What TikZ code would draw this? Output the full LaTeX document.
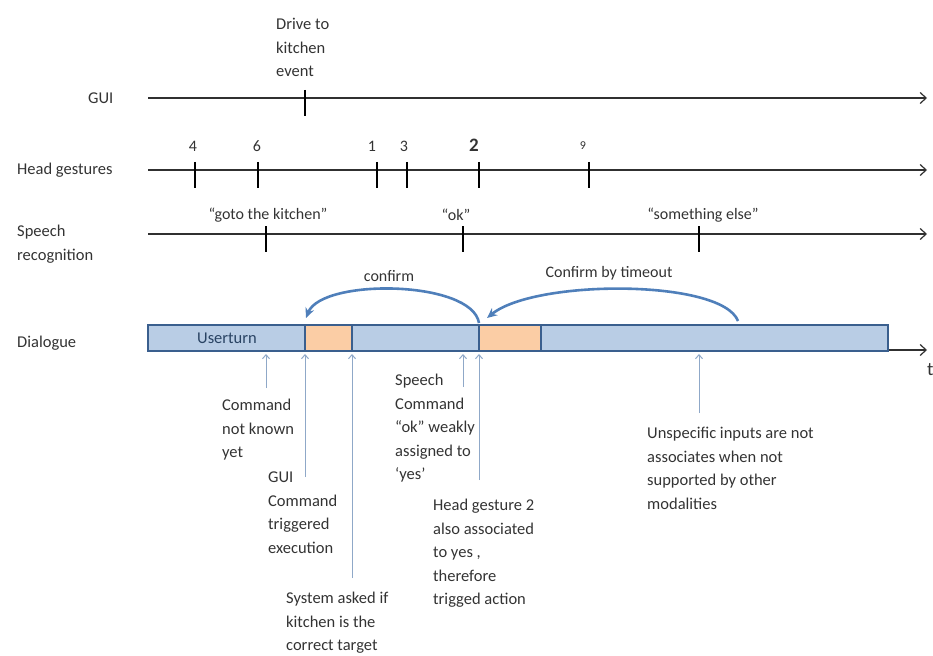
\documentclass[tikz,border=0pt]{standalone}
\usepackage{fontspec}
\setmainfont{Carlito}
\usetikzlibrary{arrows.meta}
\definecolor{txt}{HTML}{333333}
\definecolor{barfill}{HTML}{B9CDE5}
\definecolor{barline}{HTML}{3A5F8E}
\definecolor{orangefill}{HTML}{FBCDA5}
\definecolor{arcblue}{HTML}{4F7FBA}
\definecolor{annot}{HTML}{8FA8C8}
\definecolor{axis}{HTML}{303030}
\begin{document}
\begin{tikzpicture}[x=1pt,y=-1pt,
 lbl/.style={font=\fontsize{16.5}{23.5}\selectfont, text=txt, inner sep=0pt, align=left, anchor=north west},
 rowlbl/.style={font=\fontsize{16.5}{23.5}\selectfont, text=txt, inner sep=0pt, anchor=west},
 ticklbl/.style={font=\fontsize{16}{18}\selectfont, text=txt, inner sep=0pt},
 axisline/.style={draw=axis, line width=1.3pt, -{Straight Barb[length=6pt,width=11pt,line width=1.2pt]}},
 tickmark/.style={draw=black, line width=2.8pt},
 segbox/.style={draw=barline, line width=2pt},
 arcarrow/.style={draw=arcblue, line width=2.6pt, -{Stealth[length=10pt,width=9pt]}},
 annarrow/.style={draw=annot, line width=1pt, -{Straight Barb[length=4pt,width=7pt]}},
]
\useasboundingbox (0,0) rectangle (933,655);

% row labels
\node[rowlbl] (lgui) at (88,98) {GUI};
\node[rowlbl] (lhead) at (17,170) {Head gestures};
\node[lbl] (lspeech) at (17,225) {Speech\\recognition};
\node[rowlbl] (ldia) at (17,343) {Dialogue};

% timelines
\coordinate (g0) at (148,98);  \coordinate (g1) at (927,98);
\coordinate (h0) at (148,170); \coordinate (h1) at (927,170);
\coordinate (s0) at (148,234); \coordinate (s1) at (927,234);
\coordinate (d0) at (148,350); \coordinate (d1) at (927,350);
\draw[axisline] (g0) -- (g1);
\draw[axisline] (h0) -- (h1);
\draw[axisline] (s0) -- (s1);
\draw[axisline] (d0) -- (d1);

% GUI tick
\draw[tickmark] (305,90) -- (305,116);
\node[lbl] (drive) at (276,18) {Drive to\\kitchen\\event};

% head gesture ticks
\foreach \x in {195,258,377,407,479,589} \draw[tickmark] (\x,162) -- (\x,188);
\node[ticklbl] (n4) at (193,146) {4};
\node[ticklbl] (n6) at (257,146) {6};
\node[ticklbl] (n1) at (372,146) {1};
\node[ticklbl] (n3) at (404,146) {3};
\node[ticklbl, font=\fontsize{19}{21}\bfseries] (n2) at (474,145) {2};
\node[ticklbl, font=\fontsize{12}{14}\selectfont] (n9) at (583,146) {9};

% speech ticks
\foreach \x in {266,463,699} \draw[tickmark] (\x,226) -- (\x,252);
\node[ticklbl] (goto) at (268,215) {“goto the kitchen”};
\node[ticklbl] (ok) at (456,215) {“ok”};
\node[ticklbl] (else) at (703,215) {“something else”};

% dialogue bar
\draw[segbox, fill=barfill] (148,325) rectangle (305,351);
\draw[segbox, fill=orangefill] (305,325) rectangle (352,351);
\draw[segbox, fill=barfill] (352,325) rectangle (479,351);
\draw[segbox, fill=orangefill] (479,325) rectangle (541,351);
\draw[segbox, fill=barfill] (541,325) rectangle (888,351);
\node[rowlbl, anchor=center, text=barline!70!black] (user) at (227,338) {Userturn};
\node[rowlbl, anchor=west, font=\fontsize{19}{21}\selectfont] (t) at (927,370) {t};

% arcs
\coordinate (c0) at (479,323); \coordinate (c1) at (306,318);
\coordinate (f0) at (738,321); \coordinate (f1) at (487,318);
\draw[arcarrow] (c0) .. controls (472,280) and (322,278) .. (c1);
\draw[arcarrow] (f0) .. controls (722,279) and (535,279) .. (f1);
\node[ticklbl] (confirm) at (389,276) {confirm};
\node[ticklbl] (timeout) at (609,273) {Confirm by timeout};

% annotations
\node[lbl] (a1) at (222,399) {Command\\not known\\yet};
\node[lbl] (a2) at (268,472) {GUI\\Command\\triggered\\execution};
\node[lbl] (a3) at (286,592) {System asked if\\kitchen is the\\correct target};
\node[lbl] (a4) at (395,374) {Speech\\Command\\“ok” weakly\\assigned to\\‘yes’};
\node[lbl] (a5) at (433,499) {Head gesture 2\\also associated\\to yes ,\\therefore\\trigged action};
\node[lbl] (a6) at (647,427) {Unspecific inputs are not\\associates when not\\supported by other\\modalities};

\coordinate (p1a) at (266,388); \coordinate (p1b) at (266,354);
\coordinate (p2a) at (305,477); \coordinate (p2b) at (305,354);
\coordinate (p3a) at (352,578); \coordinate (p3b) at (352,354);
\coordinate (p4a) at (463,387); \coordinate (p4b) at (463,354);
\coordinate (p5a) at (479,480); \coordinate (p5b) at (479,354);
\coordinate (p6a) at (699,413); \coordinate (p6b) at (699,354);
\draw[annarrow] (p1a) -- (p1b);
\draw[annarrow] (p2a) -- (p2b);
\draw[annarrow] (p3a) -- (p3b);
\draw[annarrow] (p4a) -- (p4b);
\draw[annarrow] (p5a) -- (p5b);
\draw[annarrow] (p6a) -- (p6b);
\end{tikzpicture}
\end{document}
